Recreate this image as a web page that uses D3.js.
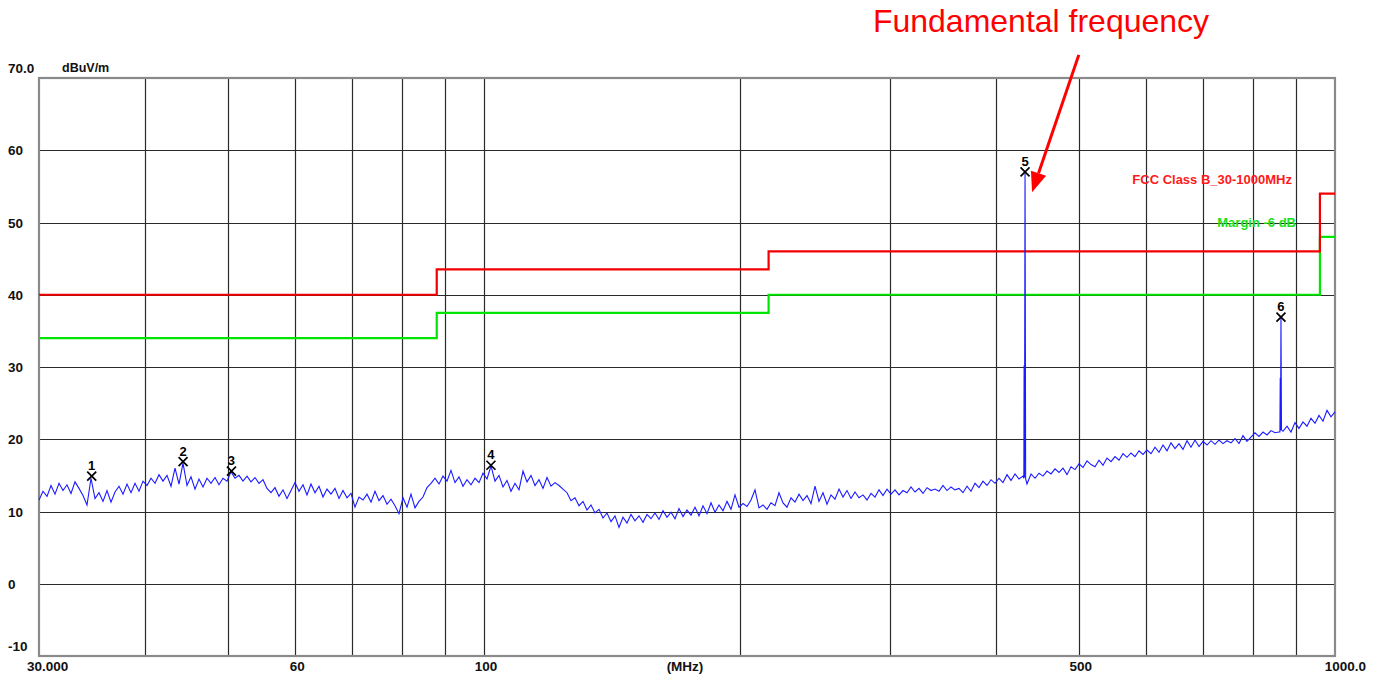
<!DOCTYPE html>
<html><head><meta charset="utf-8">
<script src="https://cdn.jsdelivr.net/npm/d3@7"></script>
<style>
html,body{margin:0;padding:0;background:#fff;}
svg{display:block;}
text{font-family:"Liberation Sans",Arial,sans-serif;}
</style></head>
<body>
<svg id="chart" width="1383" height="677"></svg>
<script>
// ---------- data ----------
const sweepStart = 30, sweepStop = 1000;
const traceValues = [
11.6,12.8,12.1,13.6,12.4,13.9,12.9,13.7,12.5,14.1,
13.2,12.2,10.9,14.6,11.8,12.6,11.4,12.9,11.3,12.7,
13.5,12.4,13.8,12.6,13.9,12.8,14.2,13.6,14.6,13.9,
15.1,14.2,15.0,13.5,16.0,13.8,16.7,13.6,14.8,13.1,
14.5,13.4,14.6,13.9,14.7,13.7,14.6,14.2,15.5,14.6,
15.0,14.2,14.9,14.1,14.7,13.9,14.4,13.2,12.6,13.3,
12.1,13.0,11.8,12.9,14.0,12.8,13.7,12.3,13.8,12.6,
13.5,12.0,13.1,12.4,13.2,11.8,12.9,11.9,12.5,10.6,
12.0,11.6,12.4,11.3,12.8,11.5,12.2,11.0,11.7,10.8,
9.7,11.9,10.6,12.4,10.5,11.4,12.0,13.3,13.9,14.6,
13.8,14.9,14.2,15.7,14.0,14.8,13.5,14.4,13.7,14.6,
14.0,15.3,14.5,16.3,14.2,15.0,13.4,14.3,12.8,13.9,
13.0,15.6,14.1,15.0,13.6,14.4,13.2,14.7,13.5,14.0,
13.6,13.1,12.6,11.5,11.9,10.8,11.4,10.2,10.9,9.8,
10.3,9.1,9.8,8.6,9.4,7.8,9.2,8.4,9.6,8.7,
9.4,8.5,9.6,9.0,9.8,8.9,10.1,9.2,9.9,9.0,
10.4,9.3,10.2,9.5,10.6,9.4,10.8,9.7,11.2,9.9,
10.9,10.1,11.4,10.3,12.3,10.6,11.1,10.7,11.6,13.0,
10.5,10.9,10.3,11.2,10.8,12.6,11.2,10.6,11.9,11.3,
12.4,11.5,12.2,11.1,13.5,11.4,12.6,11.0,12.3,11.7,
13.1,12.0,12.9,11.8,12.7,11.9,12.3,11.6,12.5,12.0,
13.0,12.2,13.1,12.4,13.0,12.3,12.9,12.6,13.4,12.7,
13.2,12.5,13.3,12.9,13.1,12.8,13.6,12.9,13.4,13.0,
13.2,12.6,13.5,12.8,13.9,13.3,14.2,13.6,14.4,13.9,
14.6,14.0,15.1,14.3,15.2,14.5,14.9,13.8,15.2,14.6,
15.3,14.9,15.6,15.2,15.9,15.4,16.0,15.1,16.2,15.8,
16.6,16.1,17.0,16.5,16.2,17.1,16.4,17.4,16.9,17.6,
17.1,18.0,17.5,18.1,17.6,18.4,17.9,18.5,18.0,18.9,
18.2,19.2,18.4,19.5,18.7,19.4,18.6,19.8,18.9,19.9,
19.0,19.7,19.2,19.8,19.3,19.9,19.4,19.8,19.5,20.1,
19.4,20.5,19.7,20.3,20.9,20.4,21.0,20.6,21.2,20.9,
21.0,21.1,21.8,21.0,22.3,21.5,22.4,21.8,22.9,22.2,
23.3,22.5,24.0,23.1,23.8
];
// narrow spikes inside the sweep: [MHz, dBuV/m]
const spikePoints = [
  [430.9, 14.6],[431.2, 30.2],[431.6, 14.7],[432.3, 57.0],[433.0, 14.5],
  [861.5, 21.0],[862.3, 28.5],[863.0, 21.2],[864.0, 36.9],[865.2, 21.3]
];
const markerIds   = ["1","2","3","4","5","6"];
const markerFreqs = [34.6, 44.3, 50.5, 101.9, 432.3, 864.0];
const markerVals  = [14.9, 16.9, 15.6, 16.4, 57.0, 36.9];

const limitEdges  = [30, 88, 216, 960, 1000];
const limitVals   = [40, 43.5, 46, 54, 54];
const marginDb    = 6;

const yTickVals   = [70, 60, 50, 40, 30, 20, 10, 0, -10];
const yTickLabels = ["70.0","60","50","40","30","20","10","0","-10"];
const xGridVals   = [40,50,60,70,80,90,100,200,300,400,500,600,700,800,900];
const xTickVals   = [30, 60, 100, 500, 1000];
const xTickLabels = ["30.000","60","100","500","1000.0"];

// ---------- scales ----------
const svg = d3.select("#chart");
const L = 39, R = 1335, T = 78, B = 656;
const x = d3.scaleLog().domain([sweepStart, sweepStop]).range([L, R]);
const y = d3.scaleLinear().domain([-10, 70]).range([B, T]);

// grid
const g = svg.append("g");
g.selectAll(".hg").data(yTickVals.filter(v => v > -10 && v < 70)).enter().append("line")
  .attr("x1", L).attr("x2", R).attr("y1", d => Math.round(y(d)) + 0.5).attr("y2", d => Math.round(y(d)) + 0.5)
  .attr("stroke", "#2a2a2a").attr("stroke-width", 1.2);
g.selectAll(".vg").data(xGridVals).enter().append("line")
  .attr("y1", T).attr("y2", B).attr("x1", d => Math.round(x(d)) + 0.5).attr("x2", d => Math.round(x(d)) + 0.5)
  .attr("stroke", "#2a2a2a").attr("stroke-width", 1.2);
// frame
g.append("rect").attr("x", L).attr("y", T).attr("width", R - L).attr("height", B - T)
  .attr("fill", "none").attr("stroke", "#8a8a8a").attr("stroke-width", 2.2);

// limit lines
const limitPts = limitEdges.map((f, i) => [f, limitVals[i]]);
const stepLine = d3.line().x(d => x(d[0])).y(d => y(d[1])).curve(d3.curveStepAfter);
svg.append("path").attr("d", stepLine(limitPts.map(p => [p[0], p[1] - marginDb])))
  .attr("fill", "none").attr("stroke", "#00e600").attr("stroke-width", 2.2);
svg.append("path").attr("d", stepLine(limitPts))
  .attr("fill", "none").attr("stroke", "#f20000").attr("stroke-width", 2.2);

// trace
const n = traceValues.length;
const sweep = traceValues.map((v, i) => [sweepStart * Math.pow(sweepStop / sweepStart, i / (n - 1)), v]);
const allPts = sweep.concat(spikePoints).sort((a, b) => a[0] - b[0]);
svg.append("path")
  .attr("d", d3.line().x(d => x(d[0])).y(d => y(d[1]))(allPts))
  .attr("fill", "none").attr("stroke", "#1a1aff").attr("stroke-width", 1.1);

// markers
const mk = svg.selectAll(".mk").data(markerIds).enter().append("g")
  .attr("transform", (d, i) => `translate(${x(markerFreqs[i])},${y(markerVals[i])})`);
mk.append("path").attr("d", "M-4.5,-4.5L4.5,4.5M-4.5,4.5L4.5,-4.5").attr("stroke", "#000").attr("stroke-width", 1.7);
mk.append("text").attr("y", -6).attr("text-anchor", "middle").attr("font-size", 13)
  .attr("font-weight", "bold").attr("fill", "#000").text(d => d);

// y labels
svg.selectAll(".yl").data(yTickVals).enter().append("text")
  .attr("x", 8).attr("y", (d, i) => y(d) + 5 + (i === 0 || i === yTickVals.length - 1 ? -10 : 0))
  .attr("font-size", 13.5).attr("font-weight", "bold").attr("fill", "#111")
  .text((d, i) => yTickLabels[i]);
svg.append("text").attr("x", 62).attr("y", 72).attr("font-size", 12.5).attr("font-weight", "bold")
  .attr("fill", "#111").text("dBuV/m");

// x labels
svg.selectAll(".xl").data(xTickVals).enter().append("text")
  .attr("x", (d, i) => i === 0 ? 27 : (i === xTickVals.length - 1 ? 1366 : x(d) + 2))
  .attr("y", 671)
  .attr("text-anchor", (d, i) => i === 0 ? "start" : (i === xTickVals.length - 1 ? "end" : "middle"))
  .attr("font-size", 13.5).attr("font-weight", "bold").attr("fill", "#111")
  .text((d, i) => xTickLabels[i]);
svg.append("text").attr("x", 685).attr("y", 671).attr("text-anchor", "middle")
  .attr("font-size", 13.5).attr("font-weight", "bold").attr("fill", "#111").text("(MHz)");

// legend labels
svg.append("text").attr("x", 1292).attr("y", 184).attr("text-anchor", "end")
  .attr("font-size", 13).attr("font-weight", "bold").attr("fill", "#ff1a1a").text("FCC Class B_30-1000MHz");
svg.append("text").attr("x", 1296).attr("y", 227).attr("text-anchor", "end")
  .attr("font-size", 13).attr("font-weight", "bold").attr("fill", "#1adf1a").text("Margin -6 dB");

// annotation
const arrowFrom = [500, 73.2], arrowTo = [440.6, 54.2];
const x1 = x(arrowFrom[0]), y1 = y(arrowFrom[1]), x2 = x(arrowTo[0]), y2 = y(arrowTo[1]);
const ang = Math.atan2(y2 - y1, x2 - x1);
const hl = 20, hw = 8;
const bx = x2 - hl * Math.cos(ang), by = y2 - hl * Math.sin(ang);
svg.append("line").attr("x1", x1).attr("y1", y1).attr("x2", bx).attr("y2", by)
  .attr("stroke", "#ff0000").attr("stroke-width", 3);
svg.append("path").attr("d", `M${x2},${y2}L${bx + hw * Math.sin(ang)},${by - hw * Math.cos(ang)}L${bx - hw * Math.sin(ang)},${by + hw * Math.cos(ang)}Z`)
  .attr("fill", "#ff0000");
svg.append("text").attr("x", 1041).attr("y", 32).attr("text-anchor", "middle")
  .attr("font-size", 32).attr("fill", "#ff0000").text("Fundamental frequency");
</script>
</body></html>
